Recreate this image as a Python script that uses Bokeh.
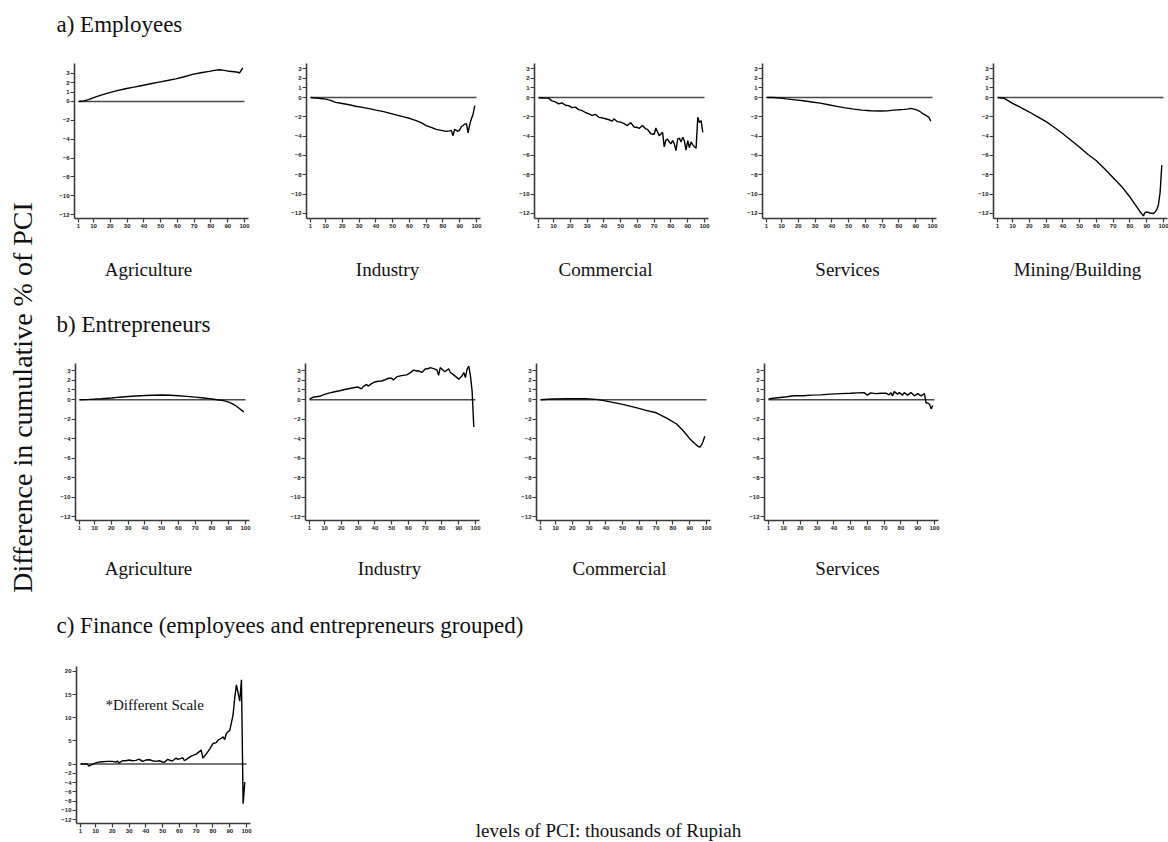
import math

from bokeh.plotting import figure
from bokeh.layouts import row, column
from bokeh.models import FixedTicker, Label
from bokeh.embed import file_html
from bokeh.resources import INLINE

# ---------------------------------------------------------------- data
X_TICKS = [1, 10, 20, 30, 40, 50, 60, 70, 80, 90, 100]
Y_TICKS = [3, 2, 1, 0, -2, -4, -6, -8, -10, -12]
FIN_Y_TICKS = [20, 15, 10, 5, 0, -2, -4, -6, -8, -10, -12]

SECTION_TITLES = [
    "a) Employees",
    "b) Entrepreneurs",
    "c) Finance (employees and entrepreneurs grouped)",
]
EMP_SECTORS = ["Agriculture", "Industry", "Commercial", "Services", "Mining/Building"]
ENT_SECTORS = ["Agriculture", "Industry", "Commercial", "Services"]
Y_TITLE = "Difference in cumulative % of PCI"
X_TITLE = "levels of PCI: thousands of Rupiah"
SCALE_NOTE = "*Different Scale"

# a) employees
emp_agri_x = [1, 4, 7, 10, 14, 19, 24, 29, 34, 39, 44, 49, 54, 59, 64, 69, 74, 79, 82, 85,
              88, 91, 94, 96, 97, 98, 99]
emp_agri_y = [0.0, 0.05, 0.2, 0.4, 0.65, 0.92, 1.15, 1.35, 1.52, 1.7, 1.88, 2.05, 2.22, 2.4,
              2.62, 2.87, 3.05, 3.2, 3.3, 3.36, 3.3, 3.2, 3.15, 3.1, 3.02, 3.3, 3.57]

emp_ind_x = [1, 4, 7, 10, 13, 16, 20, 24, 28, 32, 36, 40, 44, 48, 52, 56, 60, 64, 67, 70,
             73, 76, 79, 82, 84, 85, 86, 87, 88, 89, 90, 91, 92, 93, 94, 95, 96, 97, 98, 99]
emp_ind_y = [0.0, -0.05, -0.1, -0.17, -0.3, -0.5, -0.62, -0.75, -0.9, -1.02, -1.15, -1.3,
             -1.44, -1.62, -1.8, -1.98, -2.15, -2.4, -2.6, -2.9, -3.1, -3.3, -3.4, -3.5,
             -3.45, -3.4, -3.95, -3.3, -3.4, -3.5, -3.35, -3.0, -2.9, -2.75, -2.7, -3.65,
             -2.75, -2.2, -1.7, -0.85]

emp_com_x = [1, 4, 7, 9, 11, 13, 15, 17, 19, 21, 23, 25, 27, 29, 31, 33, 35, 37, 39, 41, 43,
             45, 46, 48, 50, 52, 54, 56, 58, 60, 61, 63, 65, 66, 68, 70, 71, 73, 75, 76, 77,
             78, 79, 80, 81, 82, 83, 84, 85, 86, 87, 88, 89, 90, 91, 92, 93, 94, 95, 96, 97,
             98, 99]
emp_com_y = [-0.03, -0.05, -0.06, -0.35, -0.45, -0.65, -0.55, -0.8, -0.85, -1.05, -1.0,
             -1.25, -1.35, -1.55, -1.7, -1.85, -1.75, -2.05, -2.1, -2.2, -2.3, -2.45, -2.2,
             -2.5, -2.55, -2.7, -2.9, -2.6, -3.05, -3.1, -3.2, -2.9, -3.25, -3.3, -3.75,
             -3.8, -3.15, -3.95, -3.6, -5.1, -4.4, -4.3, -4.6, -4.8, -4.45, -4.8, -5.5,
             -4.3, -4.2, -4.6, -4.1, -4.5, -5.45, -4.45, -5.2, -4.6, -4.9, -5.1, -5.25,
             -2.05, -2.6, -2.4, -3.6]

emp_serv_x = [1, 5, 9, 13, 18, 23, 28, 33, 38, 43, 48, 53, 58, 63, 69, 73, 77, 80, 83, 85,
              87, 89, 91, 93, 94, 95, 96, 97, 98, 99]
emp_serv_y = [0.0, 0.0, -0.05, -0.14, -0.24, -0.34, -0.46, -0.58, -0.75, -0.92, -1.07, -1.2,
              -1.3, -1.37, -1.4, -1.38, -1.3, -1.27, -1.23, -1.2, -1.13, -1.2, -1.3, -1.5,
              -1.65, -1.75, -1.85, -1.95, -2.1, -2.46]

emp_mine_x = [1, 5, 10, 15, 20, 25, 30, 35, 40, 45, 50, 55, 60, 65, 70, 75, 80, 84, 86, 88,
              89, 90, 92, 94, 95, 96, 97, 98, 99]
emp_mine_y = [0.0, -0.08, -0.6, -1.05, -1.5, -2.0, -2.5, -3.1, -3.75, -4.45, -5.15, -5.9,
              -6.55, -7.4, -8.3, -9.2, -10.3, -11.3, -11.8, -12.25, -11.9, -11.85, -11.95,
              -12.0, -11.85, -11.6, -11.1, -9.8, -7.0]

# b) entrepreneurs
ent_agri_x = [1, 7, 14, 20, 25, 30, 35, 40, 45, 50, 55, 60, 65, 70, 75, 80, 83, 86, 88, 90,
              92, 94, 96, 98, 99]
ent_agri_y = [0.0, 0.03, 0.1, 0.18, 0.26, 0.33, 0.38, 0.43, 0.46, 0.48, 0.46, 0.41, 0.34,
              0.26, 0.18, 0.08, 0.0, -0.07, -0.15, -0.25, -0.4, -0.6, -0.85, -1.12, -1.26]

ent_ind_x = [1, 3, 7, 10, 13, 16, 19, 22, 25, 28, 30, 32, 33, 35, 36, 38, 40, 42, 44, 46, 48,
             50, 51, 53, 55, 57, 59, 61, 63, 65, 66, 68, 70, 72, 73, 75, 77, 78, 79, 81, 82,
             84, 85, 87, 89, 90, 92, 93, 94, 95, 96, 97, 98, 99]
ent_ind_y = [0.07, 0.25, 0.35, 0.55, 0.7, 0.82, 0.92, 1.05, 1.15, 1.25, 1.3, 1.12, 1.35, 1.57,
             1.4, 1.65, 1.82, 1.9, 1.92, 2.05, 2.2, 2.2, 2.03, 2.34, 2.45, 2.5, 2.55, 2.75,
             3.04, 2.95, 2.97, 2.8, 3.15, 3.2, 3.3, 3.2, 3.07, 2.5, 3.3, 2.97, 2.9, 3.18,
             2.8, 2.55, 2.27, 2.1, 2.45, 2.8, 2.27, 3.15, 3.46, 2.45, 0.87, -2.8]

ent_com_x = [1, 8, 18, 28, 34, 38, 44, 50, 58, 64, 70, 76, 82, 86, 90, 93, 95, 96, 97, 98, 99]
ent_com_y = [0.0, 0.07, 0.1, 0.1, 0.03, -0.07, -0.27, -0.48, -0.82, -1.1, -1.34, -1.86,
             -2.47, -3.16, -4.0, -4.5, -4.8, -4.88, -4.67, -4.26, -3.75]

ent_serv_x = [1, 5, 8, 12, 16, 22, 26, 32, 38, 44, 50, 54, 58, 60, 62, 65, 68, 71, 73, 74,
              75, 76, 78, 79, 81, 82, 84, 86, 88, 90, 92, 94, 95, 96, 97, 98, 99]
ent_serv_y = [0.07, 0.17, 0.23, 0.3, 0.4, 0.4, 0.47, 0.5, 0.57, 0.63, 0.67, 0.7, 0.73, 0.47,
              0.7, 0.63, 0.67, 0.67, 0.5, 0.73, 0.4, 0.83, 0.57, 0.73, 0.47, 0.73, 0.47,
              0.73, 0.4, 0.63, 0.4, 0.63, -0.34, -0.34, -0.45, -0.94, -0.6]

# c) finance
fin_x = [1, 5, 6, 8, 11, 14, 17, 20, 22, 23, 24, 26, 28, 30, 32, 34, 36, 38, 40, 42, 44, 46,
         48, 50, 51, 53, 55, 56, 58, 59, 61, 62, 63, 65, 67, 70, 73, 74, 76, 78, 80, 82, 83,
         85, 86, 87, 88, 89, 90, 91, 92, 93, 94, 95, 96, 97, 98, 99]
fin_y = [0.0, 0.0, -0.45, -0.1, 0.35, 0.5, 0.57, 0.57, 0.43, 0.64, 0.2, 0.71, 0.71, 0.86,
         0.71, 0.79, 1.07, 0.57, 0.86, 0.93, 0.71, 0.57, 0.71, 0.43, 0.36, 1.0, 0.71, 0.71,
         1.29, 1.0, 1.21, 1.36, 0.71, 1.21, 1.71, 2.14, 3.0, 1.29, 2.14, 3.21, 4.43, 4.64,
         5.14, 5.57, 5.86, 5.29, 6.6, 7.0, 7.2, 8.9, 10.6, 14.3, 17.1, 15.4, 13.6, 18.2,
         -8.6, -3.9]

# ---------------------------------------------------------------- styling
SERIF = "Liberation Serif"
TICK_FONT = "Liberation Sans"
X_RANGE = (-1.4, 102.4)
FRAME_W = 174
MAIN_W = 1120


def panel(xs, ys, yticks, y_range, width, height, left, top, bottom):
    p = figure(width=width, height=height, x_range=X_RANGE, y_range=y_range,
               output_backend="svg", toolbar_location=None,
               min_border_left=left, min_border_right=width - left - FRAME_W,
               min_border_top=top, min_border_bottom=bottom)
    p.grid.visible = False
    p.outline_line_color = None
    p.xaxis.ticker = FixedTicker(ticks=X_TICKS)
    p.yaxis.ticker = FixedTicker(ticks=yticks)
    for ax in p.axis:
        ax.axis_line_color = "#3a3a3a"
        ax.axis_line_width = 1.6
        ax.major_tick_line_color = "#3a3a3a"
        ax.major_tick_line_width = 1.2
        ax.major_tick_in = 0
        ax.major_tick_out = 4
        ax.minor_tick_line_color = None
        ax.major_label_text_font = TICK_FONT
        ax.major_label_text_font_style = "bold"
        ax.major_label_text_font_size = "6px"
        ax.major_label_text_color = "#222222"
        ax.major_label_standoff = 1
    # reference line at zero across the PCI range
    p.line([X_TICKS[0], X_TICKS[-1]], [0, 0], line_color="#4a4a4a", line_width=1.6)
    p.line(xs, ys, line_color="black", line_width=1.4)
    return p


def text_canvas(width, height):
    """Blank figure whose frame covers the whole area, used to hold free text."""
    c = figure(width=width, height=height, x_range=(0, 1), y_range=(0, 1),
               x_axis_location=None, y_axis_location=None,
               output_backend="svg", toolbar_location=None, min_border=0)
    c.grid.visible = False
    c.outline_line_color = None
    return c


def add_text(p, text, x, y, size, align="center", angle=0.0):
    p.add_layout(Label(x=x, y=y, x_units="screen", y_units="screen", text=text,
                       text_font=SERIF, text_font_size=size, text_align=align,
                       text_baseline="middle", text_color="#111111", angle=angle))


# ---------------------------------------------------------------- block a
title_a = text_canvas(MAIN_W, 45)
add_text(title_a, SECTION_TITLES[0], 8, 21, "23px", align="left")

a_series = [(emp_agri_x, emp_agri_y), (emp_ind_x, emp_ind_y), (emp_com_x, emp_com_y),
            (emp_serv_x, emp_serv_y), (emp_mine_x, emp_mine_y)]
a_widths = [232, 228, 228, 231, 201]
a_yranges = [(-12.42, 4.03), (-12.52, 3.52), (-12.52, 3.52), (-12.52, 3.52), (-12.52, 3.52)]
panels_a = [panel(xs, ys, Y_TICKS, yr, w, 195, 26, 18, 22)
            for (xs, ys), w, yr in zip(a_series, a_widths, a_yranges)]

cats_a = text_canvas(MAIN_W, 60)
for name, cx in zip(EMP_SECTORS, [100, 339, 557, 799, 1029]):
    add_text(cats_a, name, cx, 31, "19px")

# ---------------------------------------------------------------- block b
title_b = text_canvas(MAIN_W, 45)
add_text(title_b, SECTION_TITLES[1], 8, 21, "23px", align="left")

b_series = [(ent_agri_x, ent_agri_y), (ent_ind_x, ent_ind_y), (ent_com_x, ent_com_y),
            (ent_serv_x, ent_serv_y)]
b_widths = [231, 231, 228, 210]
b_lefts = [27, 26, 26, 26]
panels_b = [panel(xs, ys, Y_TICKS, (-12.41, 3.72), w, 195, lft, 18, 20)
            for (xs, ys), w, lft in zip(b_series, b_widths, b_lefts)]

cats_b = text_canvas(MAIN_W, 60)
for name, cx in zip(ENT_SECTORS, [100, 341, 571, 799]):
    add_text(cats_b, name, cx, 32, "19px")

# ---------------------------------------------------------------- block c
title_c = text_canvas(MAIN_W, 48)
add_text(title_c, SECTION_TITLES[2], 8, 23, "23px", align="left")

fin = panel(fin_x, fin_y, FIN_Y_TICKS, (-12.86, 21.08), 232, 194, 28, 18, 19)
add_text(fin, SCALE_NOTE, 29, 119, "15px", align="left")

# the axis caption sits level with the finance tick labels
x_note = text_canvas(MAIN_W - 232, 194)
add_text(x_note, X_TITLE, 328, 12, "19px")

# ---------------------------------------------------------------- shared y title
strip = text_canvas(48, 842)
add_text(strip, Y_TITLE, 22, 445, "28px", angle=math.pi / 2)

main = column(title_a, row(*panels_a), cats_a,
              title_b, row(*panels_b), cats_b,
              title_c, row(fin, column(x_note)))
page = row(strip, main)

open("out.html", "w").write(file_html(page, INLINE))
